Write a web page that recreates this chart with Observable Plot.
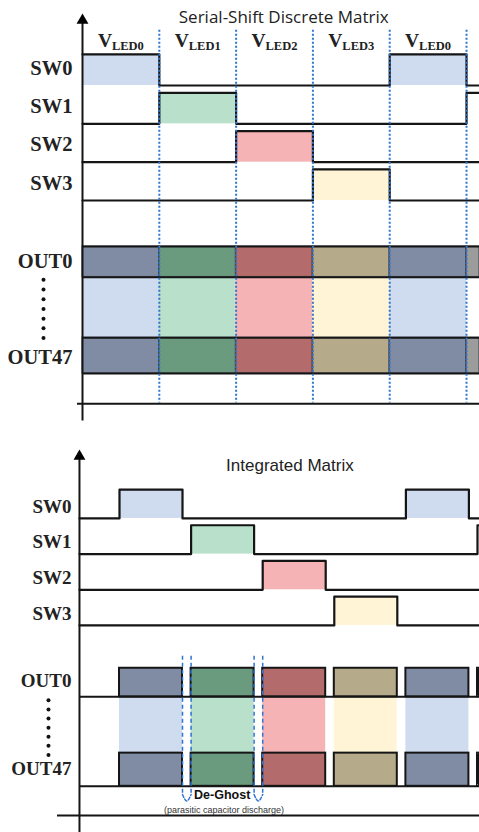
<!DOCTYPE html>
<html><head><meta charset="utf-8">
<script src="https://cdn.jsdelivr.net/npm/d3@7"></script>
<script src="https://cdn.jsdelivr.net/npm/@observablehq/plot@0.6"></script>
<style>
body{margin:0;background:#fff;}
#chart{width:479px;}
#chart svg{display:block;}
</style></head><body><div id="chart"></div>
<script>
// ---------------- data ----------------
const topTitle = "Serial-Shift Discrete Matrix";
const bottomTitle = "Integrated Matrix";
const swNames = ["SW0", "SW1", "SW2", "SW3"];
const outNames = ["OUT0", "OUT47"];
const ledNames = ["LED0", "LED1", "LED2", "LED3", "LED0"];
// time slots (one slot = one scan line); which switch is on in each slot
const slotStart = [0, 1, 2, 3, 4, 5];
const slotActive = [0, 1, 2, 3, 0, 1];
// colours per slot
const lightColors = ["#cfdbef", "#b8e0cb", "#f6b3b6", "#fff5d6", "#cfdbef", "#ffffff"];
const darkColors = ["#7f8ca3", "#6b9b7f", "#b46b6b", "#b5aa8a", "#7f8ca3", "#9c9c9c"];
const fillSlots = [true, true, true, true, true, false];
// bottom panel: pulse width as fraction of slot (de-ghost gap in between)
const pulseWidth = 0.88;
const deGhostAfter = [0, 1];
// signal levels (row units, downward)
const swHigh = [0.19, 1.19, 2.19, 3.19];
const swLow = [1, 2, 3, 4];
const out0Level = {high: 5.2, low: 6.0};
const out47Level = {high: 7.58, low: 8.51};
// vertical ellipsis between OUT0 and OUT47 (7 dots)
const ellipsisDots = [0, 1, 2, 3, 4, 5, 6];
const deGhostText = "De-Ghost";
const deGhostNote = "(parasitic capacitor discharge)";

// -------------- helpers --------------
const SERIF = "'Liberation Serif', 'Times New Roman', serif";
const SANS = "'Liberation Sans', Arial, sans-serif";
const LINE = "#151515";
const BLUE = "#2f74d0";

function labelMarks(axisT, swY, outY, size, dxLbl, dotsDx, dotsY0, dotsStep) {
  return [
    Plot.text(swNames, {x: () => axisT, y: (d, i) => swY[i], text: d => d, textAnchor: "end", dx: dxLbl,
      fontFamily: SERIF, fontWeight: "bold", fontSize: size, fill: "#222"}),
    Plot.text(outNames, {x: () => axisT, y: (d, i) => outY[i], text: d => d, textAnchor: "end", dx: dxLbl,
      fontFamily: SERIF, fontWeight: "bold", fontSize: size, fill: "#222"}),
    Plot.dot(ellipsisDots, {x: () => axisT, y: d => dotsY0 + d * dotsStep, dx: dotsDx, r: 2, fill: "#111", stroke: "none"})
  ];
}

// ---------------- TOP PANEL ----------------
const topEnd = 5.169;
const topSwLines = [];
swNames.forEach((n, i) => {
  slotStart.forEach((t, k) => topSwLines.push({sw: n, t, v: slotActive[k] === i ? swHigh[i] : swLow[i]}));
  topSwLines.push({sw: n, t: topEnd, v: topSwLines[topSwLines.length - 1].v});
});
const topSlots = slotStart.map((t, k) => ({t1: t, t2: Math.min(t + 1, topEnd), k, sw: slotActive[k]}));

const topPlot = Plot.plot({
  width: 479, height: 430,
  marginTop: 0, marginRight: 0, marginBottom: 0, marginLeft: 0,
  x: {domain: [-1.0677, topEnd], range: [0, 479], axis: null},
  y: {domain: [-1.218, 10], range: [0, 430], axis: null},
  color: {type: "identity"},
  style: {background: "#fff", overflow: "visible"},
  marks: [
    // switch pulse fills
    Plot.rect(topSlots.filter(d => fillSlots[d.k]), {x1: "t1", x2: "t2", y1: d => swHigh[d.sw], y2: d => swLow[d.sw], fill: d => lightColors[d.k]}),
    // output bands
    Plot.rect(topSlots, {x1: "t1", x2: "t2", y1: () => out0Level.low, y2: () => out47Level.high, fill: d => lightColors[d.k]}),
    Plot.rect(topSlots, {x1: "t1", x2: "t2", y1: () => out0Level.high, y2: () => out0Level.low, fill: d => darkColors[d.k], stroke: "#1d2430", strokeOpacity: 0.55, strokeWidth: 1.5}),
    Plot.rect(topSlots, {x1: "t1", x2: "t2", y1: () => out47Level.high, y2: () => out47Level.low, fill: d => darkColors[d.k], stroke: "#1d2430", strokeOpacity: 0.55, strokeWidth: 1.5}),
    Plot.ruleY([out0Level.high, out0Level.low, out47Level.high, out47Level.low], {x1: 0, x2: topEnd, stroke: LINE, strokeWidth: 2}),
    // switch waveforms
    Plot.line(topSwLines, {x: "t", y: "v", z: "sw", curve: "step-after", stroke: LINE, strokeWidth: 2.2}),
    // axes
    Plot.ruleX([0], {y1: -0.70, y2: 9.75, stroke: LINE, strokeWidth: 2}),
    Plot.ruleY([9.3], {x1: -0.065, x2: topEnd, stroke: LINE, strokeWidth: 2}),
    Plot.dot([0], {x: d => d, y: () => -0.70, symbol: "triangle", r: 4.4, fill: "#000", stroke: "none"}),
    // slot boundaries
    Plot.ruleX(slotStart.slice(1), {y1: -0.44, y2: 9.28, stroke: BLUE, strokeWidth: 2, strokeDasharray: "2,2"}),
    // V_LED labels
    Plot.text(ledNames, {x: (d, i) => slotStart[i] + 0.5, y: () => 0.0, text: () => "V", dx: -23, textAnchor: "start", lineAnchor: "bottom",
      fontFamily: SERIF, fontWeight: "bold", fontSize: 19.5, fill: "#222"}),
    Plot.text(ledNames, {x: (d, i) => slotStart[i] + 0.5, y: () => 0.0, text: d => d, dx: -9, dy: 3, textAnchor: "start", lineAnchor: "bottom",
      fontFamily: SERIF, fontWeight: "bold", fontSize: 12.5, fill: "#222"}),
    // title
    Plot.text([topTitle], {x: () => 2.62, y: () => -0.62, text: d => d, lineAnchor: "bottom", fontFamily: "'Open Sans', sans-serif", fontSize: 17, fill: "#222"}),
    ...labelMarks(0, swHigh.map((h, i) => (h + swLow[i]) / 2 - 0.05), [(out0Level.high + out0Level.low) / 2, 8.1], 20.5, -10, -39, 6.07, 0.253)
  ]
});

// ---------------- BOTTOM PANEL ----------------
const botAxis = -0.559;
const botEnd = 5.028;
const botSwLines = [];
swNames.forEach((n, i) => {
  const pts = [{sw: n, t: botAxis, v: swLow[i]}];
  slotStart.forEach((t, k) => {
    if (slotActive[k] !== i) return;
    pts.push({sw: n, t, v: swHigh[i]});
    if (t + pulseWidth < botEnd) pts.push({sw: n, t: t + pulseWidth, v: swLow[i]});
  });
  pts.push({sw: n, t: botEnd, v: pts[pts.length - 1].v});
  botSwLines.push(...pts);
});
const botPulses = slotStart.map((t, k) => ({t1: t, t2: Math.min(t + pulseWidth, botEnd), k, sw: slotActive[k]}));
const gaps = deGhostAfter.map(k => ({a: slotStart[k] + pulseWidth, b: slotStart[k + 1]}));
const gapLines = gaps.flatMap(g => [g.a, g.b]);
const gapHooks = gaps.flatMap((g, j) => [
  {j, t: g.a, v: 8.74}, {j, t: (g.a + g.b) / 2, v: 8.92}, {j, t: g.b, v: 8.74}
]);

const botPlot = Plot.plot({
  width: 479, height: 402,
  marginTop: 0, marginRight: 0, marginBottom: 0, marginLeft: 0,
  x: {domain: [-1.662, botEnd], range: [0, 479], axis: null},
  y: {domain: [-1.466, 9.805], range: [0, 402], axis: null},
  color: {type: "identity"},
  style: {background: "#fff", overflow: "visible"},
  marks: [
    Plot.rect(botPulses.filter(d => fillSlots[d.k]), {x1: "t1", x2: "t2", y1: d => swHigh[d.sw], y2: d => swLow[d.sw], fill: d => lightColors[d.k]}),
    Plot.rect(botPulses, {x1: "t1", x2: "t2", y1: () => out0Level.low, y2: () => out47Level.high, fill: d => lightColors[d.k]}),
    Plot.ruleY([out0Level.low, out47Level.low], {x1: botAxis, x2: botEnd, stroke: LINE, strokeWidth: 2}),
    Plot.rect(botPulses, {x1: "t1", x2: "t2", y1: () => out0Level.high, y2: () => out0Level.low, fill: d => darkColors[d.k], stroke: LINE, strokeWidth: 2}),
    Plot.rect(botPulses, {x1: "t1", x2: "t2", y1: () => out47Level.high, y2: () => out47Level.low, fill: d => darkColors[d.k], stroke: LINE, strokeWidth: 2}),
    Plot.line(botSwLines, {x: "t", y: "v", z: "sw", curve: "step-after", stroke: LINE, strokeWidth: 2.2}),
    // axes
    Plot.ruleX([botAxis], {y1: -0.74, y2: 9.805, stroke: LINE, strokeWidth: 2}),
    Plot.ruleY([9.33], {x1: -0.866, x2: botEnd, stroke: LINE, strokeWidth: 2}),
    Plot.dot([botAxis], {x: d => d, y: () => -0.74, symbol: "triangle", r: 4.4, fill: "#000", stroke: "none"}),
    // de-ghost markers
    Plot.ruleX(gapLines, {y1: 4.86, y2: 8.74, stroke: BLUE, strokeWidth: 1.5, strokeDasharray: "4,3"}),
    Plot.line(gapHooks, {x: "t", y: "v", z: "j", curve: "natural", stroke: BLUE, strokeWidth: 1.5, strokeDasharray: "3,2"}),
    Plot.text([deGhostText], {x: () => gaps[0].b, y: () => 8.87, text: d => d, dx: 3, textAnchor: "start", lineAnchor: "bottom",
      fontFamily: SANS, fontWeight: "bold", fontSize: 12.5, fill: "#111"}),
    Plot.text([deGhostNote], {x: () => 1.46, y: () => 9.27, text: d => d, lineAnchor: "bottom",
      fontFamily: SANS, fontSize: 9, fill: "#333"}),
    Plot.text([bottomTitle], {x: () => 2.38, y: () => -0.32, text: d => d, lineAnchor: "bottom", fontFamily: SANS, fontSize: 17, fill: "#222"}),
    ...labelMarks(botAxis, swHigh.map((h, i) => (h + swLow[i]) / 2 + 0.07), [(out0Level.high + out0Level.low) / 2 - 0.04, 8.02], 19, -8, -31, 6.1, 0.255)
  ]
});

document.getElementById("chart").append(topPlot, botPlot);
</script>
</body></html>
